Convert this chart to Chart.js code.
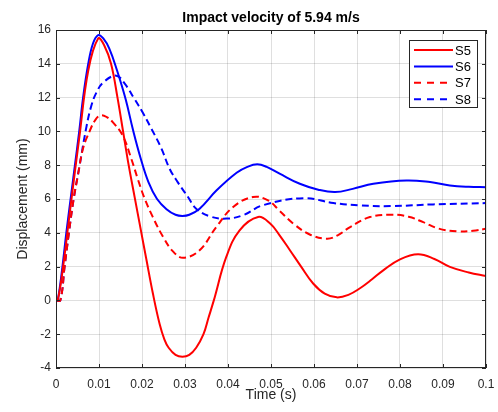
<!DOCTYPE html>
<html>
<head>
<meta charset="utf-8">
<title>Impact velocity of 5.94 m/s</title>
<script src="https://cdn.jsdelivr.net/npm/chart.js@4.4.0/dist/chart.umd.min.js"></script>
<style>
  html, body { margin: 0; padding: 0; background: #fff; }
</style>
</head>
<body>
<canvas id="myChart" width="498" height="412"></canvas>
<script>
// tick values / labels
const xTicks = [0, 0.01, 0.02, 0.03, 0.04, 0.05, 0.06, 0.07, 0.08, 0.09, 0.1];
const xTickLabels = ['0', '0.01', '0.02', '0.03', '0.04', '0.05', '0.06', '0.07', '0.08', '0.09', '0.1'];
const yTicks = [-4, -2, 0, 2, 4, 6, 8, 10, 12, 14, 16];

const seriesNames = ['S5', 'S6', 'S7', 'S8'];

// S5 (time in s, displacement in mm)
const timeS5 = [0, 0.0004, 0.0015, 0.0034, 0.0054, 0.0075, 0.0098, 0.0112, 0.0128, 0.0143, 0.0156, 0.0169, 0.0183,
  0.0197, 0.021, 0.0225, 0.0241, 0.0252, 0.0262, 0.0278, 0.0294, 0.031, 0.0326, 0.0343, 0.0355, 0.0367, 0.0396,
  0.0427, 0.047, 0.0498, 0.052, 0.0544, 0.057, 0.0598, 0.0625, 0.0653, 0.068, 0.0707, 0.0735, 0.0761, 0.08,
  0.0842, 0.088, 0.0916, 0.096, 0.1];
const dispS5 = [0, 0, 1.7, 5.6, 9.6, 13.6, 15.5, 15.1, 14.0, 12.0, 10.0, 8.0, 6.1,
  4.2, 2.45, 0.45, -1.4, -2.3, -2.8, -3.22, -3.33, -3.22, -2.8, -2.0, -1.0, 0, 2.57,
  4.15, 4.94, 4.55, 3.85, 2.97, 2.0, 1.0, 0.4, 0.18, 0.33, 0.72, 1.25, 1.78, 2.43,
  2.73, 2.45, 1.98, 1.65, 1.44];

// S6
const timeS6 = [0, 0.0004, 0.0015, 0.0024, 0.0034, 0.0044, 0.0054, 0.0063, 0.0075, 0.0086, 0.0098, 0.011, 0.0124,
  0.0142, 0.0162, 0.0179, 0.0197, 0.0215, 0.0235, 0.0257, 0.0278, 0.0294, 0.031, 0.0334, 0.0373, 0.042, 0.0445,
  0.0468, 0.049, 0.052, 0.0567, 0.061, 0.0649, 0.069, 0.0738, 0.0815, 0.087, 0.0916, 0.096, 0.1];
const dispS6 = [0, 0, 2, 4, 6, 8, 10, 12, 14, 15.2, 15.7, 15.5, 14.9,
  13.6, 11.9, 10.1, 8.4, 7.0, 6.0, 5.4, 5.07, 5.0, 5.07, 5.43, 6.5, 7.55, 7.9,
  8.05, 7.9, 7.5, 6.9, 6.55, 6.41, 6.6, 6.9, 7.1, 7.0, 6.8, 6.72, 6.7];

// S7
const timeS7 = [0, 0.001, 0.002, 0.003, 0.0041, 0.0051, 0.0063, 0.0078, 0.0092, 0.0104, 0.0118, 0.0132, 0.0155,
  0.0175, 0.019, 0.0205, 0.0225, 0.0249, 0.0272, 0.0296, 0.0334, 0.0373, 0.0412, 0.0458, 0.0493, 0.052,
  0.0552, 0.059, 0.063, 0.0655, 0.0684, 0.073, 0.078, 0.082, 0.0854, 0.089, 0.0935, 0.097, 0.1];
const dispS7 = [0, 0, 2, 4, 6, 7.4, 9.0, 10.0, 10.7, 10.95, 10.85, 10.55, 9.76,
  8.39, 7.2, 6.1, 4.94, 3.76, 2.9, 2.52, 2.97, 4.35, 5.53, 6.12, 5.92, 5.3,
  4.54, 3.9, 3.65, 3.85, 4.34, 4.93, 5.07, 4.95, 4.63, 4.25, 4.08, 4.12, 4.24];

// S8
const timeS8 = [0, 0.001, 0.002, 0.003, 0.0041, 0.0055, 0.0071, 0.0082, 0.0094, 0.011, 0.014, 0.0159, 0.0183,
  0.0202, 0.0221, 0.0245, 0.0264, 0.0283, 0.0307, 0.0326, 0.0357, 0.0396, 0.0435, 0.0481, 0.0575, 0.0645,
  0.0707, 0.078, 0.0877, 0.1];
const dispS8 = [0, 0, 2, 4, 6, 8, 10.3, 11.5, 12.3, 12.9, 13.3, 12.85, 11.9,
  11.1, 10.2, 9.0, 7.8, 7.0, 6.12, 5.43, 4.98, 4.84, 5.04, 5.63, 6.05, 5.76,
  5.62, 5.58, 5.68, 5.76];

const FONT = '"Liberation Sans", Arial, Helvetica, sans-serif';
const AXIS_COLOR = '#262626';

function toPoints(t, v) {
  return t.map((x, i) => ({ x: x, y: v[i] }));
}

function makeSet(label, t, v, color, dash) {
  return {
    label: label,
    data: toPoints(t, v),
    borderColor: color,
    backgroundColor: color,
    borderWidth: 2,
    borderDash: dash,
    pointRadius: 0,
    fill: false,
    tension: 0.4
  };
}

// box, inward ticks, title and legend drawn like the matlab figure
const matlabAxes = {
  id: 'matlabAxes',
  afterDatasetsDraw(chart) {
    const ctx = chart.ctx;
    const a = chart.chartArea;
    const xs = chart.scales.x;
    const ys = chart.scales.y;
    ctx.save();
    ctx.strokeStyle = AXIS_COLOR;
    ctx.lineWidth = 1;
    ctx.setLineDash([]);
    ctx.strokeRect(a.left + 0.5, a.top + 0.5, a.right - a.left - 1, a.bottom - a.top - 1);
    ctx.beginPath();
    xTicks.forEach(v => {
      const px = Math.round(xs.getPixelForValue(v)) + 0.5;
      ctx.moveTo(px, a.bottom);
      ctx.lineTo(px, a.bottom - 4);
      ctx.moveTo(px, a.top);
      ctx.lineTo(px, a.top + 4);
    });
    yTicks.forEach(v => {
      const py = Math.round(ys.getPixelForValue(v)) + 0.5;
      ctx.moveTo(a.left, py);
      ctx.lineTo(a.left + 4, py);
      ctx.moveTo(a.right, py);
      ctx.lineTo(a.right - 4, py);
    });
    ctx.stroke();

    // legend
    const lw = 69, lh = 68;
    const lx = a.right - 8 - lw;
    const ly = a.top + 10;
    ctx.fillStyle = '#fff';
    ctx.fillRect(lx, ly, lw, lh);
    ctx.strokeStyle = AXIS_COLOR;
    ctx.lineWidth = 1;
    ctx.strokeRect(lx + 0.5, ly + 0.5, lw - 1, lh - 1);
    ctx.font = '13px ' + FONT;
    ctx.textBaseline = 'middle';
    ctx.textAlign = 'left';
    chart.data.datasets.forEach((ds, i) => {
      const ry = ly + 10 + i * 16.4;
      ctx.beginPath();
      ctx.strokeStyle = ds.borderColor;
      ctx.lineWidth = 2;
      ctx.setLineDash(ds.borderDash.length ? [7, 6] : []);
      ctx.moveTo(lx + 5, ry);
      ctx.lineTo(lx + 44, ry);
      ctx.stroke();
      ctx.setLineDash([]);
      ctx.fillStyle = '#000';
      ctx.fillText(ds.label, lx + 46, ry + 1);
    });

    // title centred over the axes
    ctx.font = 'bold 14px ' + FONT;
    ctx.fillStyle = '#000';
    ctx.textAlign = 'center';
    ctx.fillText('Impact velocity of 5.94 m/s', (a.left + a.right) / 2, 18.5);
    ctx.restore();
  }
};

const ctx = document.getElementById('myChart').getContext('2d');
const myChart = new Chart(ctx, {
  type: 'line',
  data: {
    datasets: [
      makeSet(seriesNames[0], timeS5, dispS5, 'rgb(255,0,0)', []),
      makeSet(seriesNames[1], timeS6, dispS6, 'rgb(0,0,255)', []),
      makeSet(seriesNames[2], timeS7, dispS7, 'rgb(255,0,0)', [7, 4]),
      makeSet(seriesNames[3], timeS8, dispS8, 'rgb(0,0,255)', [7, 4])
    ]
  },
  options: {
    responsive: false,
    animation: false,
    layout: { padding: { top: 30, right: 12, left: 0, bottom: 0 } },
    plugins: {
      legend: { display: false },
      title: { display: false },
      tooltip: { enabled: false }
    },
    scales: {
      x: {
        type: 'linear',
        min: 0,
        max: 0.1,
        afterBuildTicks: s => { s.ticks = xTicks.map(v => ({ value: v })); },
        afterFit: s => { s.height = 44; },
        ticks: {
          callback: (v, i) => xTickLabels[i],
          font: { size: 12, family: FONT },
          color: AXIS_COLOR,
          padding: 3,
          maxRotation: 0,
          autoSkip: false
        },
        grid: { color: 'rgba(38,38,38,0.15)', drawTicks: true, tickLength: 6, tickColor: 'rgba(0,0,0,0)' },
        border: { display: false },
        title: {
          display: true,
          text: 'Time (s)',
          font: { size: 14, family: FONT },
          color: AXIS_COLOR,
          padding: { top: 0, bottom: 8 }
        }
      },
      y: {
        type: 'linear',
        min: -4,
        max: 16,
        afterBuildTicks: s => { s.ticks = yTicks.map(v => ({ value: v })); },
        afterFit: s => { s.width = 56; },
        ticks: {
          font: { size: 12, family: FONT },
          color: AXIS_COLOR,
          padding: 5
        },
        grid: { color: 'rgba(38,38,38,0.15)', drawTicks: false },
        border: { display: false },
        title: {
          display: true,
          text: 'Displacement (mm)',
          font: { size: 14, family: FONT },
          color: AXIS_COLOR,
          padding: { top: 15, bottom: 0 }
        }
      }
    }
  },
  plugins: [matlabAxes]
});
</script>
</body>
</html>
